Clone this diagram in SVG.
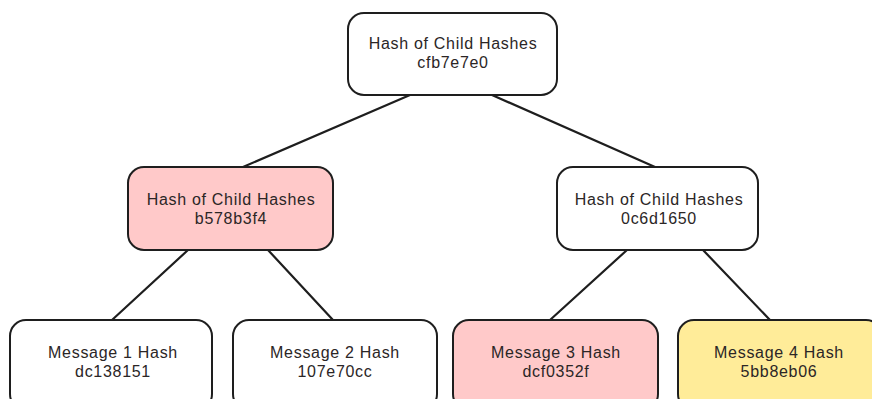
<svg xmlns="http://www.w3.org/2000/svg" width="872" height="399" viewBox="0 0 872 399">
<style>
.box{stroke:#1e1e1e;stroke-width:2;}
.w{fill:#ffffff;}
.p{fill:#ffc9c9;}
.y{fill:#ffec99;}
.t{font-family:"Liberation Sans",Arial,sans-serif;font-size:16px;letter-spacing:0.7px;fill:#2b2626;text-anchor:middle;}
.edge{stroke:#1e1e1e;stroke-width:2.2;fill:none;stroke-linecap:round;}
</style>
<rect width="872" height="399" fill="#ffffff"/>
<g id="connectors">
<line class="edge" x1="410" y1="95" x2="243" y2="167"/>
<line class="edge" x1="492" y1="95" x2="655" y2="167"/>
<line class="edge" x1="188" y1="250" x2="112" y2="320"/>
<line class="edge" x1="268" y1="250" x2="333" y2="320"/>
<line class="edge" x1="627" y1="250" x2="550" y2="320"/>
<line class="edge" x1="703" y1="250" x2="770" y2="320"/>
</g>
<g id="root">
<rect class="box w" x="348" y="13" width="209" height="82" rx="16"/>
<text class="t" x="453" y="49">Hash of Child Hashes</text>
<text class="t" x="453" y="68">cfb7e7e0</text>
</g>
<g id="midLeft">
<rect class="box p" x="128" y="167" width="205" height="83" rx="16"/>
<text class="t" x="231" y="205">Hash of Child Hashes</text>
<text class="t" x="231" y="224">b578b3f4</text>
</g>
<g id="midRight">
<rect class="box w" x="557" y="167" width="201" height="83" rx="16"/>
<text class="t" x="659" y="205">Hash of Child Hashes</text>
<text class="t" x="659" y="224">0c6d1650</text>
</g>
<g id="msg1">
<rect class="box w" x="10" y="320" width="202" height="90" rx="16"/>
<text class="t" x="113" y="358">Message 1 Hash</text>
<text class="t" x="113" y="377">dc138151</text>
</g>
<g id="msg2">
<rect class="box w" x="233" y="320" width="204" height="90" rx="16"/>
<text class="t" x="335" y="358">Message 2 Hash</text>
<text class="t" x="335" y="377">107e70cc</text>
</g>
<g id="msg3">
<rect class="box p" x="453" y="320" width="205" height="90" rx="16"/>
<text class="t" x="556" y="358">Message 3 Hash</text>
<text class="t" x="556" y="377">dcf0352f</text>
</g>
<g id="msg4">
<rect class="box y" x="678" y="320" width="204" height="90" rx="16"/>
<text class="t" x="779" y="358">Message 4 Hash</text>
<text class="t" x="779" y="377">5bb8eb06</text>
</g>
</svg>
